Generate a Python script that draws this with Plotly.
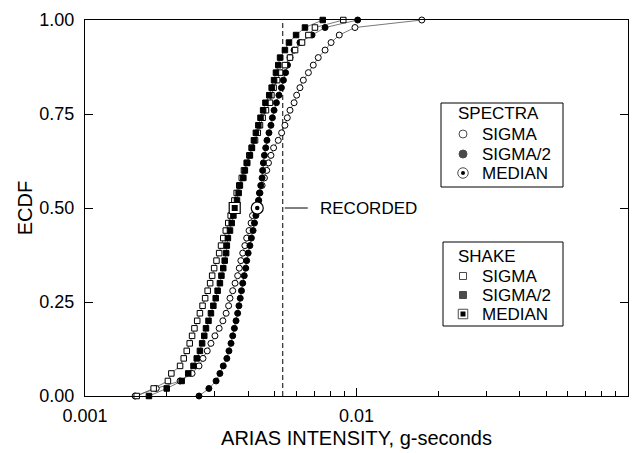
import math
import plotly.graph_objects as go

# ECDF levels for the 51 ordered realisations of each simulation set
ecdf = [0.00, 0.02, 0.04, 0.06, 0.08, 0.10, 0.12, 0.14, 0.16, 0.18,
        0.20, 0.22, 0.24, 0.26, 0.28, 0.30, 0.32, 0.34, 0.36, 0.38,
        0.40, 0.42, 0.44, 0.46, 0.48, 0.50, 0.52, 0.54, 0.56, 0.58,
        0.60, 0.62, 0.64, 0.66, 0.68, 0.70, 0.72, 0.74, 0.76, 0.78,
        0.80, 0.82, 0.84, 0.86, 0.88, 0.90, 0.92, 0.94, 0.96, 0.98, 1.00]

# Arias intensity (g-seconds), spectra-based simulations
spectra_sigma = [0.00153, 0.00183, 0.00224, 0.00248, 0.00263, 0.00272, 0.00282, 0.00291, 0.00301, 0.00312,
                 0.00322, 0.00331, 0.00338, 0.00342, 0.00350, 0.00357, 0.00365, 0.00370, 0.00375, 0.00381,
                 0.00388, 0.00394, 0.00402, 0.00409, 0.00414, 0.00428, 0.00436, 0.00441, 0.00449, 0.00458,
                 0.00467, 0.00474, 0.00484, 0.00495, 0.00515, 0.00530, 0.00545, 0.00556, 0.00569, 0.00589,
                 0.00602, 0.00619, 0.00637, 0.00665, 0.00693, 0.00723, 0.00766, 0.00806, 0.00864, 0.00987,
                 0.0174]
spectra_half = [0.00263, 0.00286, 0.00304, 0.00314, 0.00323, 0.00333, 0.00339, 0.00345, 0.00350, 0.00355,
                0.00360, 0.00365, 0.00369, 0.00373, 0.00377, 0.00381, 0.00386, 0.00391, 0.00394, 0.00399,
                0.00405, 0.00410, 0.00416, 0.00421, 0.00426, 0.00431, 0.00436, 0.00439, 0.00444, 0.00449,
                0.00451, 0.00454, 0.00458, 0.00463, 0.00468, 0.00476, 0.00484, 0.00490, 0.00497, 0.00507,
                0.00518, 0.00529, 0.00538, 0.00548, 0.00557, 0.00569, 0.00589, 0.00619, 0.00686, 0.00766,
                0.0101]

# Arias intensity (g-seconds), SHAKE-based simulations
shake_sigma = [0.00155, 0.00179, 0.00202, 0.00208, 0.00224, 0.00231, 0.00237, 0.00243, 0.00248, 0.00253,
               0.00259, 0.00265, 0.00271, 0.00277, 0.00283, 0.00289, 0.00294, 0.00299, 0.00305, 0.00312,
               0.00317, 0.00323, 0.00330, 0.00337, 0.00344, 0.00351, 0.00355, 0.00362, 0.00370, 0.00378,
               0.00385, 0.00394, 0.00403, 0.00411, 0.00423, 0.00433, 0.00441, 0.00451, 0.00464, 0.00480,
               0.00486, 0.00495, 0.00510, 0.00523, 0.00545, 0.00569, 0.00594, 0.00630, 0.00665, 0.00703,
               0.00894]
shake_half = [0.00172, 0.00200, 0.00227, 0.00240, 0.00251, 0.00258, 0.00265, 0.00270, 0.00275, 0.00279,
              0.00285, 0.00291, 0.00297, 0.00303, 0.00308, 0.00314, 0.00318, 0.00323, 0.00327, 0.00331,
              0.00333, 0.00336, 0.00342, 0.00347, 0.00352, 0.00356, 0.00363, 0.00368, 0.00372, 0.00383,
              0.00388, 0.00396, 0.00405, 0.00412, 0.00419, 0.00426, 0.00435, 0.00443, 0.00453, 0.00462,
              0.00477, 0.00487, 0.00497, 0.00505, 0.00515, 0.00523, 0.00545, 0.00564, 0.00599, 0.00646,
              0.00751]

# Median simulations and the recorded value
spectra_median = 0.00431
shake_median = 0.00356
median_level = 0.50
recorded = 0.00535

x_tickvals = [0.001, 0.01, 0.1]
x_ticktext = ["0.001", "0.01", "0.1"]
x_minor = [0.002, 0.003, 0.004, 0.005, 0.006, 0.007, 0.008, 0.009,
           0.02, 0.03, 0.04, 0.05, 0.06, 0.07, 0.08, 0.09]
y_tickvals = [0.00, 0.25, 0.50, 0.75, 1.00]
y_ticktext = ["0.00", "0.25", "0.50", "0.75", "1.00"]

spectra_labels = ["SIGMA", "SIGMA/2", "MEDIAN"]
shake_labels = ["SIGMA", "SIGMA/2", "MEDIAN"]

FONT = "Liberation Sans, Arial, Helvetica, sans-serif"
INK = "black"
LINK = "#555555"

# figure geometry (pixels)
W, H = 639, 453
ML, MR, MT, MB = 85, 11, 20, 57
PW, PH = W - ML - MR, H - MT - MB


def px_x(px):
    """horizontal pixel -> paper fraction of the plot area"""
    return (px - ML) / PW


def px_y(py):
    """vertical pixel -> paper fraction of the plot area"""
    return (H - MB - py) / PH


fig = go.Figure()

series = [
    (spectra_sigma, "circle", "white", 6),
    (spectra_half, "circle", INK, 6),
    (shake_sigma, "square", "white", 5.5),
    (shake_half, "square", INK, 5.5),
]

# thin connecting lines first
for xs, _, _, _ in series:
    fig.add_trace(go.Scatter(x=xs, y=ecdf, mode="lines",
                             line=dict(color=LINK, width=0.8),
                             showlegend=False, hoverinfo="skip", cliponaxis=False))

# markers on top
for xs, sym, fill, size in series:
    fig.add_trace(go.Scatter(x=xs, y=ecdf, mode="markers", showlegend=False,
                             marker=dict(symbol=sym, size=size, color=fill,
                                         line=dict(color=INK, width=1)),
                             cliponaxis=False))

# median markers: outlined symbol with a filled centre
for med, sym, outer, inner in [(spectra_median, "circle", 12, 4.5),
                               (shake_median, "square", 11, 6)]:
    fig.add_trace(go.Scatter(x=[med], y=[median_level], mode="markers", showlegend=False,
                             marker=dict(symbol=sym, size=outer, color="white",
                                         line=dict(color=INK, width=1.2)),
                             cliponaxis=False))
    fig.add_trace(go.Scatter(x=[med], y=[median_level], mode="markers", showlegend=False,
                             marker=dict(symbol=sym, size=inner, color=INK, line=dict(width=0)),
                             cliponaxis=False))

# recorded value: dashed vertical line with a short leader to its label
fig.add_shape(type="line", xref="x", yref="y", x0=recorded, x1=recorded, y0=0, y1=1,
              line=dict(color=INK, width=1, dash="5px,3px"), layer="below")
fig.add_shape(type="line", xref="x", yref="y", xsizemode="pixel", xanchor=recorded,
              x0=2, x1=25, y0=median_level, y1=median_level,
              line=dict(color=INK, width=1))
fig.add_annotation(x=math.log10(recorded), y=median_level, xref="x", yref="y", text="RECORDED",
                   showarrow=False, xanchor="left", yanchor="middle", xshift=35,
                   font=dict(family=FONT, size=17, color=INK))

# boxed keys: (box left, top, right, bottom), title row, item rows
key_blocks = [
    dict(box=(441, 103, 563, 187), title="SPECTRA", title_y=113, rows=[134, 154, 173],
         labels=spectra_labels, sym="circle", sizes=(8, 8, 10.5), inner=4),
    dict(box=(443, 242, 563, 326), title="SHAKE", title_y=256, rows=[276, 295, 314],
         labels=shake_labels, sym="square", sizes=(7, 7, 9.5), inner=5),
]
KEY_X, TEXT_X, TITLE_X = 463, 480, 456

for blk in key_blocks:
    x0, y0, x1, y1 = blk["box"]
    fig.add_shape(type="rect", xref="paper", yref="paper",
                  x0=px_x(x0), x1=px_x(x1), y0=px_y(y1), y1=px_y(y0),
                  line=dict(color=INK, width=1), fillcolor="white", layer="below")
    fig.add_annotation(xref="paper", yref="paper", x=px_x(TITLE_X), y=px_y(blk["title_y"]),
                       text=blk["title"], showarrow=False, xanchor="left", yanchor="middle",
                       font=dict(family=FONT, size=17, color=INK))
    for ry, lab in zip(blk["rows"], blk["labels"]):
        fig.add_annotation(xref="paper", yref="paper", x=px_x(TEXT_X), y=px_y(ry),
                           text=lab, showarrow=False, xanchor="left", yanchor="middle",
                           font=dict(family=FONT, size=17, color=INK))
    kx = [px_x(KEY_X)] * 3
    ky = [px_y(r) for r in blk["rows"]]
    s_open, s_fill, s_med = blk["sizes"]
    fig.add_trace(go.Scatter(x=kx, y=ky, xaxis="x3", yaxis="y3", mode="markers",
                             showlegend=False, hoverinfo="skip", cliponaxis=False,
                             marker=dict(symbol=blk["sym"], size=[s_open, s_fill, s_med],
                                         color=["white", INK, "white"],
                                         line=dict(color=INK, width=1))))
    fig.add_trace(go.Scatter(x=[kx[2]], y=[ky[2]], xaxis="x3", yaxis="y3", mode="markers",
                             showlegend=False, hoverinfo="skip", cliponaxis=False,
                             marker=dict(symbol=blk["sym"], size=blk["inner"], color=INK,
                                         line=dict(width=0))))

tick_common = dict(ticks="inside", tickcolor=INK, tickwidth=1, showgrid=False,
                   zeroline=False, automargin=False)

fig.update_layout(
    width=W, height=H,
    margin=dict(l=ML, r=MR, t=MT, b=MB, autoexpand=False),
    paper_bgcolor="white", plot_bgcolor="white",
    font=dict(family=FONT, size=17, color=INK),
    showlegend=False,
    xaxis=dict(type="log", range=[-3, -1], tickvals=x_tickvals, ticktext=x_ticktext,
               ticklen=8, minor=dict(tickvals=x_minor, ticks="inside", ticklen=5,
                                     tickcolor=INK, tickwidth=1),
               showline=True, linecolor=INK, linewidth=1, mirror=True,
               tickfont=dict(family=FONT, size=18, color=INK), ticklabelstandoff=3,
               title=dict(text="ARIAS INTENSITY, g-seconds", standoff=6,
                          font=dict(family=FONT, size=20, color=INK)),
               **tick_common),
    # top frame carries the same log ticks, without labels
    xaxis2=dict(type="log", range=[-3, -1], overlaying="x", side="top", anchor="y",
                tickvals=x_tickvals, showticklabels=False, ticklen=8,
                minor=dict(tickvals=x_minor, ticks="inside", ticklen=5,
                           tickcolor=INK, tickwidth=1),
                showline=False, **tick_common),
    yaxis=dict(range=[0, 1], tickvals=y_tickvals, ticktext=y_ticktext,
               ticklen=8, showline=True, linecolor=INK, linewidth=1, mirror="ticks",
               tickfont=dict(family=FONT, size=18, color=INK), ticklabelstandoff=6,
               title=dict(text="ECDF", standoff=1,
                          font=dict(family=FONT, size=20, color=INK)),
               **tick_common),
    # plain [0, 1] frame used to place the key symbols
    xaxis3=dict(overlaying="x", range=[0, 1], visible=False, fixedrange=True),
    yaxis3=dict(overlaying="y", range=[0, 1], visible=False, fixedrange=True),
)

fig.write_html("out.html")
